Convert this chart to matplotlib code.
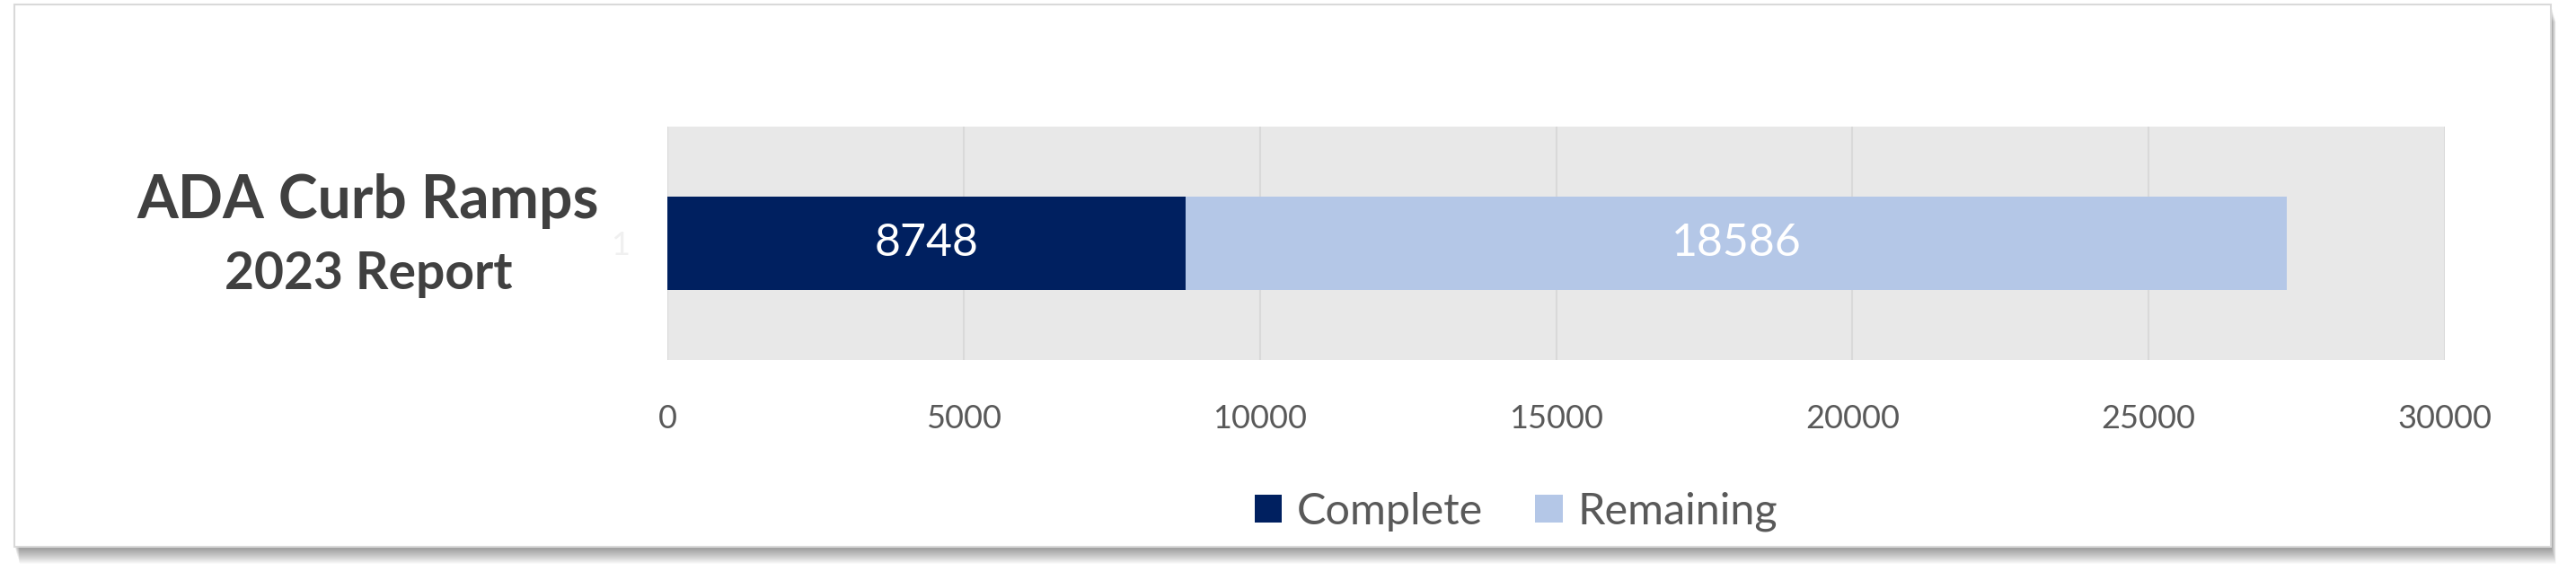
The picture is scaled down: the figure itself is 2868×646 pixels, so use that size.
import matplotlib
matplotlib.use("Agg")
import matplotlib.pyplot as plt
from matplotlib.patches import Rectangle

# data
categories = ["1"]
complete = [8748]
remaining = [18586]
series_names = ["Complete", "Remaining"]
x_ticks = [0, 5000, 10000, 15000, 20000, 25000, 30000]
title_lines = ["ADA Curb Ramps", "2023 Report"]

W, H = 2868, 646
DPI = 100

plt.rcParams['font.family'] = ['Lato', 'DejaVu Sans']

fig = plt.figure(figsize=(W / DPI, H / DPI), dpi=DPI)
fig.patch.set_facecolor('white')


def fx(x):
    return x / W


def fy(y):
    # pixel row from the top -> figure fraction
    return 1 - y / H


# card with a soft drop shadow
card_l, card_t, card_r, card_b = 16, 5, 2840, 609
for i in range(1, 20):
    fig.add_artist(Rectangle((fx(card_l + i * 0.3), fy(card_b + i)),
                             (card_r - card_l) / W, (card_b - card_t) / H,
                             transform=fig.transFigure, facecolor='black',
                             edgecolor='none', alpha=0.025, zorder=-3))
fig.add_artist(Rectangle((fx(card_l), fy(card_b)),
                         (card_r - card_l) / W, (card_b - card_t) / H,
                         transform=fig.transFigure, facecolor='white',
                         edgecolor='#d9d9d9', linewidth=1.5, zorder=-2))

# plot area
ax = fig.add_axes([fx(743), fy(401), (2722 - 743) / W, 260 / H])
ax.set_facecolor('#e8e8e8')

bars_done = ax.barh(categories, complete, height=0.4, color='#002060',
                    label=series_names[0])
bars_left = ax.barh(categories, remaining, left=complete, height=0.4,
                    color='#b4c7e7', label=series_names[1])

ax.bar_label(bars_done, label_type='center', color='white', fontsize=36)
ax.bar_label(bars_left, label_type='center', color='white', fontsize=36)

ax.set_xlim(0, 30000)
ax.set_ylim(-0.5, 0.5)
ax.set_xticks(x_ticks)
ax.xaxis.grid(True, color='#d9d9d9', linewidth=1.5)
ax.set_axisbelow(True)
for sp in ax.spines.values():
    sp.set_visible(False)
ax.tick_params(axis='x', length=0, pad=35, labelsize=26, labelcolor='#595959')
ax.tick_params(axis='y', length=0, pad=30, labelsize=26, labelcolor='#f0f0f0')

# legend under the plot
fig.legend(handles=[bars_done, bars_left], loc='center',
           bbox_to_anchor=(fx(1688), fy(570)), ncol=2, frameon=False,
           fontsize=35, handlelength=0.62, handleheight=0.62,
           handletextpad=0.34, columnspacing=1.2, labelcolor='#595959')

# title block on the left
fig.text(fx(410), fy(243), title_lines[0], ha='center', va='baseline',
         fontsize=47.5, fontweight='bold', color='#404040')
fig.text(fx(410), fy(322), title_lines[1], ha='center', va='baseline',
         fontsize=41, fontweight='bold', color='#404040')

fig.savefig('out.png', dpi=DPI, facecolor='white')
